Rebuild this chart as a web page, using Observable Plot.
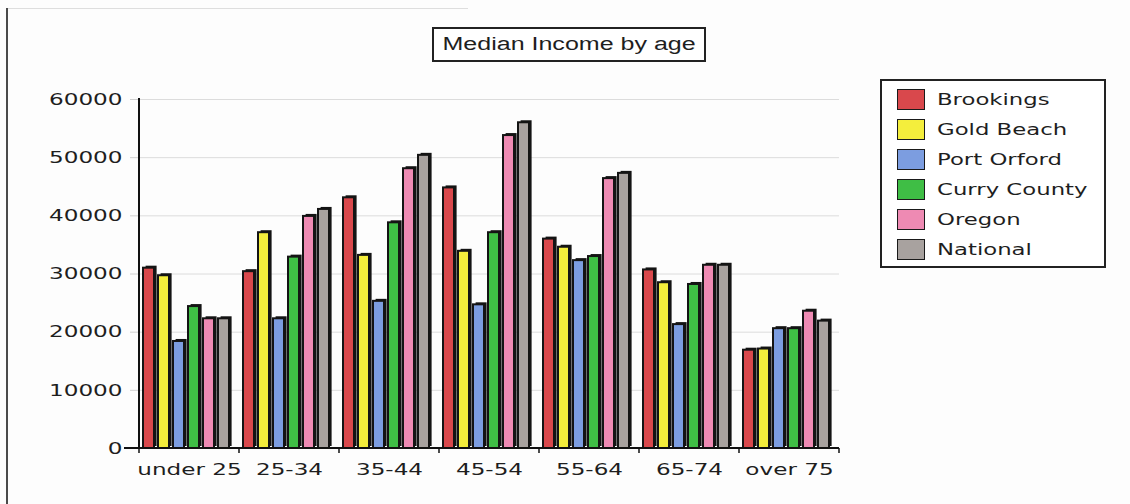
<!DOCTYPE html>
<html>
<head>
<meta charset="utf-8">
<script src="https://cdn.jsdelivr.net/npm/d3@7"></script>
<script src="https://cdn.jsdelivr.net/npm/@observablehq/plot@0.6"></script>
<style>
  html, body { margin: 0; padding: 0; background: #ffffff; }
  #wrap { position: relative; width: 1130px; height: 504px; overflow: hidden; background: #fdfdfd; }
  #wrap > svg { position: absolute; left: 0; top: 0; }
  #frameLeft { position: absolute; left: 6px; top: 8px; width: 2px; height: 496px; background: #4a4a4a; }
  #frameTop { position: absolute; left: 8px; top: 8px; width: 460px; height: 1px; background: #dedede; }
  #title { position: absolute; left: 432px; top: 27px; width: 270px; height: 31px; border: 2px solid #222;
           background: #fff; text-align: center; line-height: 31px; font-family: "Liberation Sans", Arial, sans-serif;
           font-size: 18px; color: #1e1e1e; white-space: nowrap; }
  #title span { display: inline-block; transform: scaleX(1.39); transform-origin: center; }
  #legend { position: absolute; left: 880px; top: 79px; width: 222px; height: 185px; border: 2px solid #222; background: #fff; }
  .sw { position: absolute; left: 15px; width: 28px; height: 21px; box-sizing: border-box; border: 1.8px solid #1a1a1a; }
  .lb { position: absolute; left: 55px; height: 21px; line-height: 21px; font-family: "DejaVu Sans", sans-serif;
        font-size: 16.5px; color: #1e1e1e; white-space: nowrap; transform: scaleX(1.38); transform-origin: left center; }
</style>
</head>
<body>
<div id="wrap">
  <div id="frameLeft"></div>
  <div id="frameTop"></div>
</div>
<script>
// ---- data ----
const ageGroups = ["under 25", "25-34", "35-44", "45-54", "55-64", "65-74", "over 75"];
const seriesNames = ["Brookings", "Gold Beach", "Port Orford", "Curry County", "Oregon", "National"];
const brookings   = [31000, 30400, 43100, 44800, 36000, 30700, 16900];
const goldBeach   = [29700, 37100, 33200, 33900, 34600, 28500, 17100];
const portOrford  = [18400, 22300, 25300, 24700, 32300, 21300, 20600];
const curryCounty = [24400, 32900, 38800, 37100, 33000, 28200, 20600];
const oregon      = [22300, 39900, 48100, 53800, 46400, 31500, 23600];
const national    = [22300, 41100, 50400, 56000, 47300, 31500, 21900];
const seriesColors = ["#d9484c", "#f4ee3c", "#7c9de0", "#3fbe45", "#ee8ab3", "#a8a29f"];
const yTicks = [0, 10000, 20000, 30000, 40000, 50000, 60000];
const titleText = "Median Income by age";

const seriesValues = [brookings, goldBeach, portOrford, curryCounty, oregon, national];
const rows = [];
seriesNames.forEach((s, i) => ageGroups.forEach((a, j) => rows.push({age: a, series: s, value: seriesValues[i][j]})));

const chart = Plot.plot({
  width: 1130,
  height: 504,
  marginLeft: 137,
  marginRight: 289,
  marginTop: 99,
  marginBottom: 56,
  style: {fontFamily: "'DejaVu Sans', sans-serif", fontSize: "16.5px", color: "#1e1e1e", background: "transparent", overflow: "visible"},
  fx: {domain: ageGroups, padding: 0},
  x: {domain: seriesNames, paddingInner: 0.27, paddingOuter: 0.4, align: 0.3, axis: null},
  y: {domain: [0, 60000]},
  color: {domain: seriesNames, range: seriesColors},
  marks: [
    Plot.gridY(yTicks, {stroke: "#dcdcdc", strokeOpacity: 1, strokeWidth: 1}),
    Plot.barY(rows, {fx: "age", x: "series", y: "value", fill: "#141414", dx: 2.6, dy: -2}),
    Plot.barY(rows, {fx: "age", x: "series", y: "value", fill: "series", stroke: "#141414", strokeWidth: 2}),
    Plot.axisY(yTicks, {tickSize: 9, tickPadding: 8, stroke: "#d0d0d0", tickFormat: d => String(d), label: null}),
    Plot.axisFx({anchor: "bottom", tickSize: 0, tickPadding: 15, label: null})
  ]
});

const wrap = document.getElementById("wrap");
wrap.insertBefore(chart, wrap.firstChild);

// stretch axis labels horizontally like the reference
d3.select(chart).selectAll("g[aria-label$='tick label'] text").each(function() {
  const w = this.getComputedTextLength();
  this.setAttribute("textLength", (w * 1.40).toFixed(1));
  this.setAttribute("lengthAdjust", "spacingAndGlyphs");
});

// axis lines and group boundary ticks from the plot's scales
const fxs = chart.scale("fx");
const ys = chart.scale("y");
const y0 = ys.apply(0);
const yTop = ys.apply(yTicks[yTicks.length - 1]);
const bounds = ageGroups.map(a => fxs.apply(a));
bounds.push(fxs.apply(ageGroups[ageGroups.length - 1]) + fxs.bandwidth);
const g = d3.select(chart).append("g").attr("stroke", "#111").attr("stroke-width", 2);
g.append("line").attr("x1", bounds[0]).attr("x2", bounds[0]).attr("y1", yTop - 1).attr("y2", y0 + 1);
g.append("line").attr("x1", bounds[0] - 15).attr("x2", bounds[bounds.length - 1]).attr("y1", y0).attr("y2", y0);
bounds.forEach(b => g.append("line").attr("x1", b).attr("x2", b).attr("y1", y0).attr("y2", y0 + 5).attr("stroke-width", 1.5));

// title
const title = document.createElement("div");
title.id = "title";
title.innerHTML = "<span></span>";
title.firstChild.textContent = titleText;
wrap.appendChild(title);

// legend
const legend = document.createElement("div");
legend.id = "legend";
seriesNames.forEach((s, i) => {
  const sw = document.createElement("div");
  sw.className = "sw";
  sw.style.top = (8 + i * 30) + "px";
  sw.style.background = seriesColors[i];
  const lb = document.createElement("div");
  lb.className = "lb";
  lb.style.top = (8 + i * 30) + "px";
  lb.textContent = s;
  legend.appendChild(sw);
  legend.appendChild(lb);
});
wrap.appendChild(legend);
</script>
</body>
</html>
